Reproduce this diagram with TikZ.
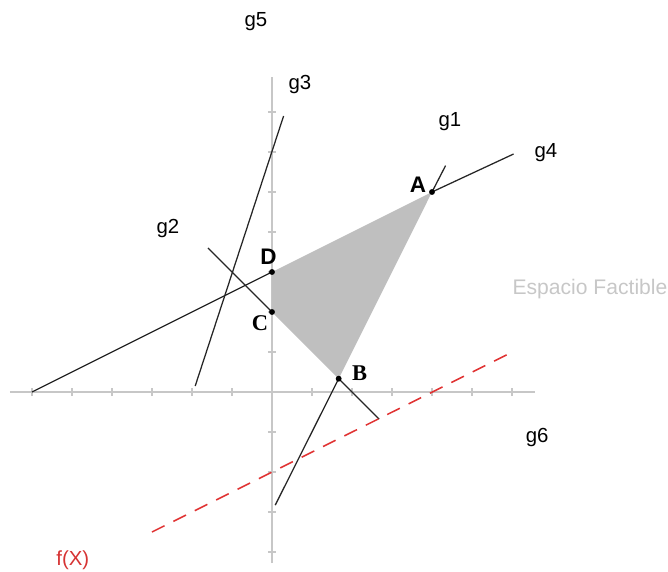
\documentclass[tikz,border=0pt]{standalone}
\usepackage{fontspec}
\setmainfont{Liberation Sans}
\newfontfamily\serifbold{Liberation Serif}
\begin{document}
\begin{tikzpicture}[every node/.style={font=\fontsize{14.5}{16}\selectfont},
  axis/.style={line width=1.2pt, black!22},
  gline/.style={line width=0.9pt, black!85},
  vert/.style={circle, fill=black, inner sep=0pt, minimum size=4.2pt},
  vlabel/.style={font=\fontsize{16}{18}\selectfont\bfseries},
  objline/.style={line width=1.1pt, red!85!black!80, dash pattern=on 10pt off 7pt}]
  \useasboundingbox (-6.8,-4.475) rectangle (9.9,9.8);
  % axes with ticks
  \draw[axis] (-6.55,0) -- (6.58,0);
  \draw[axis] (0,-4.28) -- (0,7.88);
  \foreach \i in {-6,...,6} \draw[axis] (\i,-0.1) -- (\i,0.1);
  \foreach \j in {-4,...,7} \draw[axis] (-0.1,\j) -- (0.1,\j);
  % vertices of the feasible region
  \coordinate (D) at (0,3);
  \coordinate (A) at (4,5);
  \coordinate (B) at (1.667,0.333);
  \coordinate (C) at (0,2);
  \fill[black!25] (D) -- (A) -- (B) -- (C) -- cycle;
  % constraint lines
  \coordinate (g4a) at (-6,0);    \coordinate (g4b) at (6.04,5.95);
  \coordinate (g1a) at (0.08,-2.83); \coordinate (g1b) at (4.34,5.66);
  \coordinate (g2a) at (-1.6,3.6);  \coordinate (g2b) at (2.68,-0.68);
  \coordinate (g3a) at (-1.92,0.15); \coordinate (g3b) at (0.29,6.9);
  \draw[gline] (g4a) -- (D); \draw[gline] (A) -- (g4b);
  \draw[gline] (g1a) -- (B); \draw[gline] (A) -- (g1b);
  \draw[gline] (g2a) -- (C); \draw[gline] (B) -- (g2b);
  \draw[gline] (g3a) -- (g3b);
  % objective function
  \coordinate (fa) at (-3,-3.5); \coordinate (fb) at (5.95,0.97);
  \draw[objline] (fa) -- (fb);
  \foreach \p in {A,B,C,D} \node[vert] at (\p) {};
  \node[vlabel] (la) at (3.65,5.18) {A};
  \node[vlabel] (ld) at (-0.09,3.38) {D};
  \node[vlabel, font=\fontsize{16}{18}\selectfont\serifbold\bfseries] (lc) at (-0.3,1.72) {C};
  \node[vlabel, font=\fontsize{16}{18}\selectfont\serifbold\bfseries] (lb) at (2.19,0.47) {B};
  % line names
  \node (n5) at (-0.4,9.25) {g5};
  \node (n3) at (0.7,7.68) {g3};
  \node (n1) at (4.45,6.75) {g1};
  \node (n4) at (6.85,5.98) {g4};
  \node (n2) at (-2.6,4.1) {g2};
  \node (n6) at (6.63,-1.13) {g6};
  \node[black!22, font=\fontsize{15}{17}\selectfont] (ef) at (7.95,2.58) {Espacio Factible};
  \node[red!80!black!80] (fx) at (-4.98,-4.2) {f(X)};
\end{tikzpicture}
\end{document}
